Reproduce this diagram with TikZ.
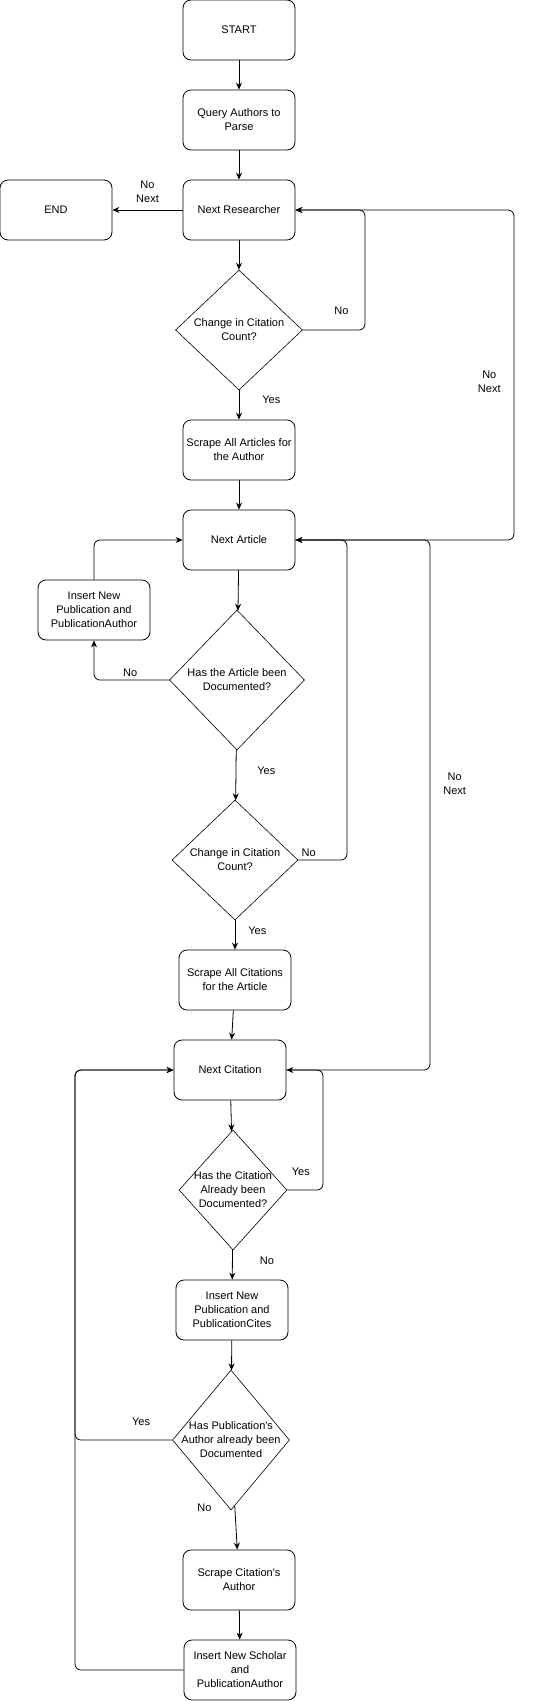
\documentclass[tikz,border=0pt]{standalone}
\usepackage{fontspec}
\setmainfont{Liberation Sans}
\usetikzlibrary{shapes.geometric,arrows.meta}

\tikzset{
  process/.style={draw, rounded corners=8pt, minimum width=112pt, minimum height=60pt, align=center, line width=0.8pt, inner sep=2pt},
  decision/.style={diamond, draw, line width=0.6pt, align=center, inner sep=-20pt},
  flow/.style={line width=0.8pt, rounded corners=6pt},
  lbl/.style={align=center, inner sep=3pt}
}

\begin{document}
\begin{tikzpicture}[x=1pt, y=-1pt, font=\fontsize{11}{14}\selectfont, >={Stealth[length=7pt,width=6pt]}]
  \useasboundingbox (0,0) rectangle (559,1701);
  % researchers
  \node[process] (start) at (239,30) {START};
  \node[process] (query) at (239,120) {Query Authors to\\Parse};
  \node[process] (res) at (239,210) {Next Researcher};
  \node[process] (end) at (56,210) {END};
  \node[decision, minimum width=127pt, minimum height=120pt] (d1) at (239,330) {Change in Citation\\Count?};
  \node[process] (scrart) at (239,450) {Scrape All Articles for\\the Author};
  % articles
  \node[process] (art) at (239,540) {Next Article};
  \node[process] (insart) at (94,610) {Insert New\\Publication and\\PublicationAuthor};
  \node[decision, minimum width=135pt, minimum height=140pt] (d2) at (237,680) {Has the Article been\\Documented?};
  \node[decision, minimum width=126pt, minimum height=120pt] (d3) at (235,860) {Change in Citation\\Count?};
  \node[process] (scrcit) at (235,980) {Scrape All Citations\\for the Article};
  % citations
  \node[process] (cit) at (230,1070) {Next Citation};
  \node[decision, minimum width=108pt, minimum height=120pt] (d4) at (233,1190) {Has the Citation\\Already been\\Documented?};
  \node[process] (inscit) at (232,1310) {Insert New\\Publication and\\PublicationCites};
  \node[decision, minimum width=117pt, minimum height=140pt] (d5) at (231,1440) {Has Publication\textquotesingle s\\Author already been\\Documented};
  \node[process] (scrauth) at (239,1580) {Scrape Citation\textquotesingle s\\Author};
  \node[process] (inssch) at (240,1670) {Insert New Scholar\\and\\PublicationAuthor};

  % bends of the loops
  \coordinate (k1) at (365,210);
  \coordinate (k2) at (514,210);
  \coordinate (k3) at (347,540);
  \coordinate (k4) at (430,540);
  \coordinate (k5) at (323,1070);
  \coordinate (k6) at (75,1070);

  \draw[flow,->] (start) -- (query);
  \draw[flow,->] (query) -- (res);
  \draw[flow,->] (res) -- node[lbl, above=4pt] {No\\Next} (end);
  \draw[flow,->] (res) -- (d1);
  \draw[flow,->] (d1.east) -| node[lbl, pos=0.31, above=12pt] {No} (k1) -- (res.east);
  \draw[flow,->] (d1) -- node[lbl, pos=0.33, right=20pt] {Yes} (scrart);
  \draw[flow,->] (scrart) -- (art);
  \draw[flow,->] (art.east) -| node[lbl, pos=0.74, left=10pt] {No\\Next} (k2) -- (res.east);
  \draw[flow,->] (art) -- (d2);
  \draw[flow,->] (d2.west) -| node[lbl, pos=0.26, above] {No} (insart.south);
  \draw[flow,->] (insart.north) |- (art.west);
  \draw[flow,->] (d2) -- node[lbl, pos=0.42, right=18pt] {Yes} (d3);
  \draw[flow,->] (d3.east) -| node[lbl, pos=0, above right] {No} (k3) -- (art.east);
  \draw[flow,->] (d3) -- node[lbl, pos=0.37, right=10pt] {Yes} (scrcit);
  \draw[flow,->] (scrcit) -- (cit);
  \draw[flow,->] (cit.east) -| node[lbl, pos=0.77, right=10pt] {No\\Next} (k4) -- (art.east);
  \draw[flow,->] (cit) -- (d4);
  \draw[flow,->] (d4.east) -| node[lbl, pos=0.19, above=11pt] {Yes} (k5) -- (cit.east);
  \draw[flow,->] (d4) -- node[lbl, pos=0.37, right=24pt] {No} (inscit);
  \draw[flow,->] (inscit) -- (d5);
  \draw[flow,->] (d5.west) -| node[lbl, pos=0.16, above=11pt] {Yes} (k6) -- (cit.west);
  \draw[flow,->] (d5) -- node[lbl, pos=0.05, left=20pt] {No} (scrauth);
  \draw[flow,->] (scrauth) -- (inssch);
  \draw[flow,->] (inssch.west) -| (k6) -- (cit.west);
\end{tikzpicture}
\end{document}
